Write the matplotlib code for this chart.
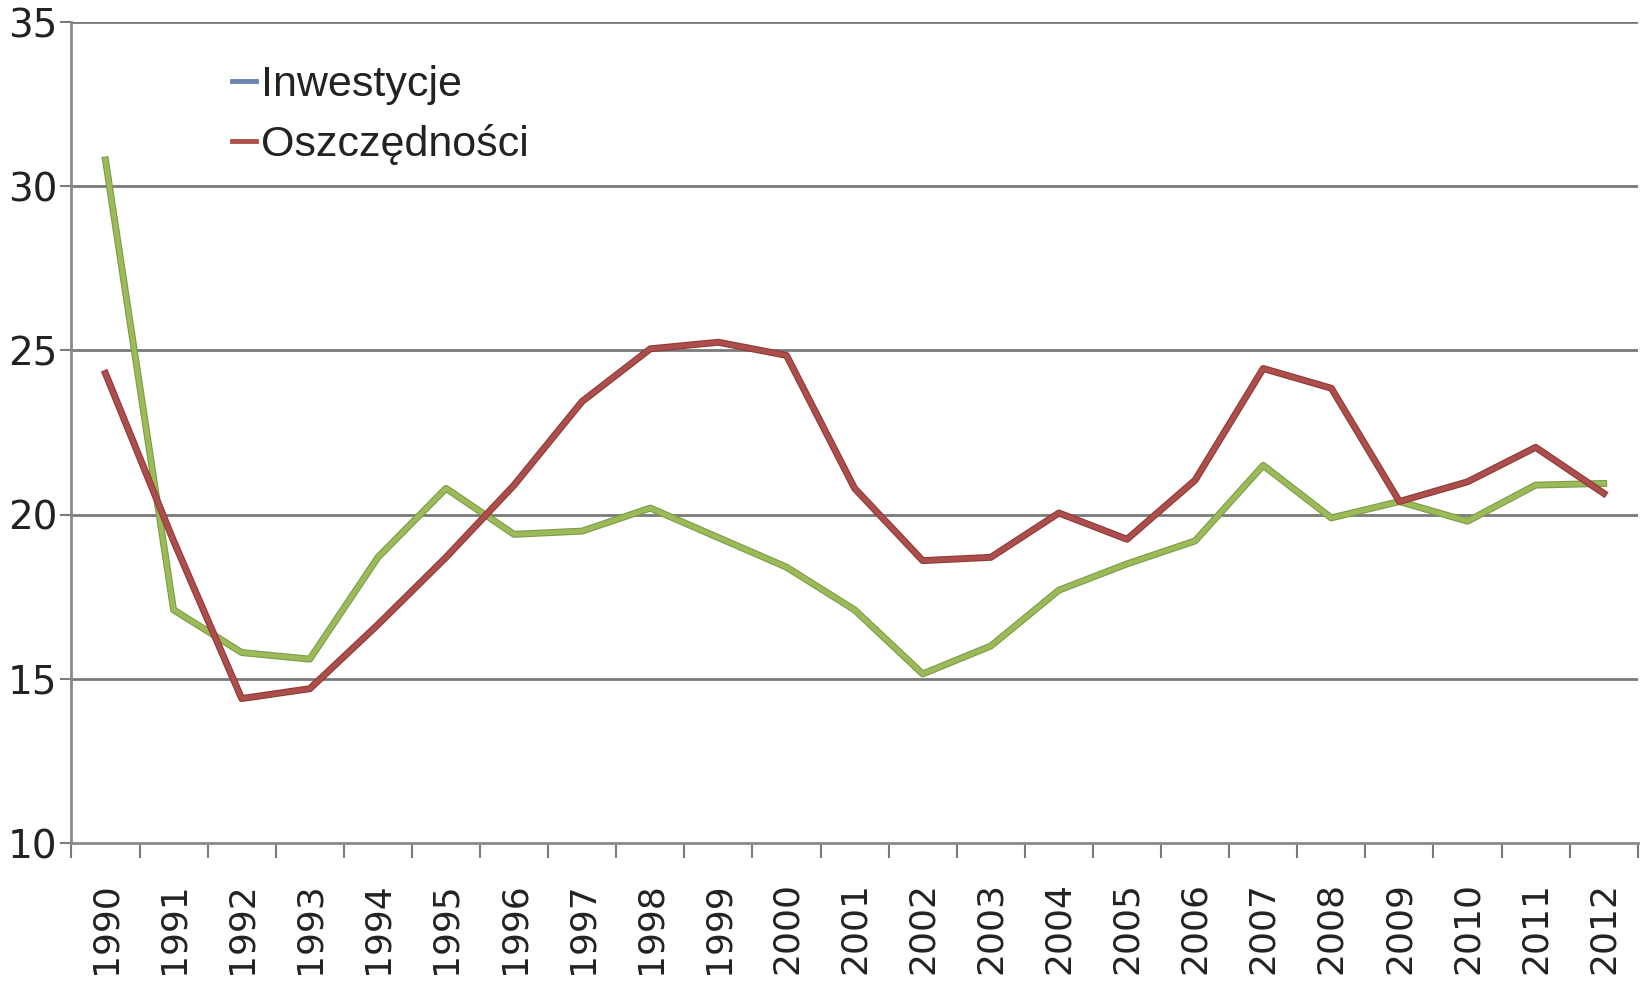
import matplotlib
matplotlib.use("Agg")
import matplotlib.pyplot as plt
import matplotlib.patheffects as pe
import numpy as np

years = [str(y) for y in range(1990, 2013)]
inwestycje = [30.8, 17.1, 15.8, 15.6, 18.7, 20.8, 19.4, 19.5, 20.2, 19.3, 18.4, 17.1,
              15.15, 16.0, 17.7, 18.5, 19.2, 21.5, 19.9, 20.4, 19.8, 20.9, 20.95]
oszczednosci = [24.3, 19.2, 14.4, 14.7, 16.65, 18.7, 20.9, 23.45, 25.05, 25.25, 24.85, 20.8,
                18.6, 18.7, 20.05, 19.25, 21.05, 24.45, 23.85, 20.4, 21.0, 22.05, 20.65]

fig = plt.figure(figsize=(16.46, 9.86), dpi=100)
ax = fig.add_axes([0.0434, 0.145, 0.995 - 0.0434, 0.9776 - 0.145])

x = np.arange(len(years))
ax.set_xlim(-0.5, len(years) - 0.5)
ax.set_ylim(10, 35)

for yv in [15, 20, 25, 30, 35]:
    ax.axhline(yv, color="#7a7a7a", lw=2.0, zorder=1)

ax.plot(x, inwestycje, color="#4F81BD", lw=3.4, zorder=2)
ax.plot(x, inwestycje, color="#9BBB59", lw=3.4, zorder=3,
        path_effects=[pe.Stroke(linewidth=5.0, foreground="#7f9a48"), pe.Normal()])
ax.plot(x, oszczednosci, color="#AC4E4B", lw=3.4, zorder=4,
        path_effects=[pe.Stroke(linewidth=5.0, foreground="#8e3a38"), pe.Normal()])

for s in ["top", "right"]:
    ax.spines[s].set_visible(False)
for s in ["left", "bottom"]:
    ax.spines[s].set_color("#8a8a8a")
    ax.spines[s].set_linewidth(2.0)

ax.set_yticks([10, 15, 20, 25, 30, 35])
ax.tick_params(axis="y", length=8, width=1.5, color="#7a7a7a", labelsize=28, pad=2)
ax.set_xticks(x)
ax.set_xticklabels(years, rotation=90, fontsize=26)
ax.tick_params(axis="x", which="major", length=0, pad=28)
ax.set_xticks(np.arange(-0.5, len(years)), minor=True)
ax.tick_params(axis="x", which="minor", length=11, width=1.5, color="#7a7a7a")
for lbl in ax.get_yticklabels() + ax.get_xticklabels():
    lbl.set_color("#222222")

from matplotlib.lines import Line2D
h1 = Line2D([0], [0], color="#6A84AE", lw=3.5)
h2 = Line2D([0], [0], color="#B2504D", lw=3.5)
leg = ax.legend([h1, h2], ["Inwestycje", "Oszczędności"], loc="upper left",
                bbox_to_anchor=(0.078, 0.995), frameon=False, handlelength=0.55,
                handletextpad=0.12, labelspacing=0.45,
                prop={"family": "Liberation Sans", "size": 31})
for t in leg.get_texts():
    t.set_color("#222222")

fig.savefig("out.png", dpi=100, facecolor="white")
